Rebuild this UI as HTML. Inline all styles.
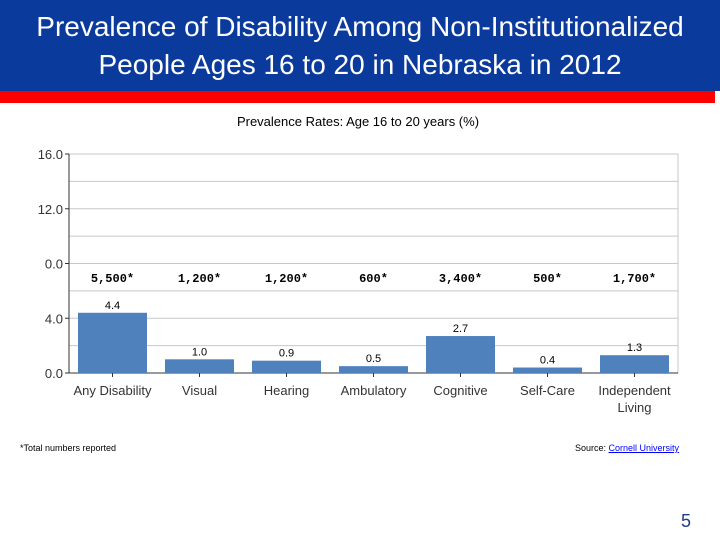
<!DOCTYPE html>
<html><head><meta charset="utf-8"><style>
body{margin:0;width:720px;height:540px;background:#fff;position:relative;overflow:hidden;font-family:"Liberation Sans",sans-serif}
#banner{position:absolute;left:0;top:0;width:720px;height:91px;background:#0a3a9c;color:#fff;text-align:center;font-size:28px;line-height:38px;padding-top:8px;box-sizing:border-box}
#red{position:absolute;left:0;top:91px;width:715px;height:12px;background:#f00}
.note{position:absolute;font-size:9px;color:#000}
</style></head><body>
<div id="banner">Prevalence of Disability Among Non-Institutionalized<br>People Ages 16 to 20 in Nebraska in 2012</div>
<div id="red"></div>
<svg id="chart" width="720" height="540" style="position:absolute;left:0;top:0"></svg>
<div class="note" style="left:20px;top:443px">*Total numbers reported</div>
<div class="note" style="left:575px;top:443px">Source: <span style="color:#00f;text-decoration:underline">Cornell University</span></div>
<div style="position:absolute;left:681px;top:511px;font-size:18px;color:#1f3c88">5</div>
<script>
const categories=["Any Disability","Visual","Hearing","Ambulatory","Cognitive","Self-Care","Independent Living"];
const values=[4.4,1.0,0.9,0.5,2.7,0.4,1.3];
const counts=["5,500*","1,200*","1,200*","600*","3,400*","500*","1,700*"];
const tickValues=[0,4,8,12,16];
const tickLabels=["0.0","4.0","0.0","12.0","16.0"];
const gridValues=[2,4,6,8,10,12,14];
const NS="http://www.w3.org/2000/svg",svg=document.getElementById('chart');
const L=69,R=678,T=154,B=373,maxV=16;
const y=v=>B-(v/maxV)*(B-T);
const band=(R-L)/categories.length;
const xc=i=>L+band*(i+0.5);
function mk(t,a,txt){const e=document.createElementNS(NS,t);for(const k in a)e.setAttribute(k,a[k]);if(txt!=null)e.textContent=txt;svg.appendChild(e);return e;}
let e=mk('text',{x:358,y:126,'text-anchor':'middle','font-size':13,fill:'#000'},'Prevalence Rates: Age 16 to 20 years (%)');


gridValues.forEach(v=>{const g=mk('line',{x1:L,x2:R,y1:y(v),y2:y(v),stroke:'#c8c8c8'});

});
let b=mk('rect',{x:L,y:T,width:R-L,height:B-T,fill:'none',stroke:'#c8c8c8'});


let ax=mk('line',{x1:L,x2:L,y1:T,y2:B,stroke:'#333'});


let xa=mk('line',{x1:L,x2:R,y1:B,y2:B,stroke:'#333'});


tickValues.forEach((v,i)=>{const t=mk('text',{x:L-6,y:y(v)+5,'text-anchor':'end','font-size':13,fill:'#333'},tickLabels[i]);


mk('line',{x1:L-4,x2:L,y1:y(v),y2:y(v),stroke:'#333'});});
const bw=69;
categories.forEach((c,i)=>{
 const r=mk('rect',{x:xc(i)-bw/2,y:y(values[i]),width:bw,height:B-y(values[i]),fill:'#4f81bd'});
 
 
 const v=mk('text',{x:xc(i),y:y(values[i])-4,'text-anchor':'middle','font-size':11,fill:'#000'},values[i].toFixed(1));
 
 
 const n=mk('text',{x:xc(i),y:282,'text-anchor':'middle','font-size':12,'font-weight':'bold','font-family':'Liberation Mono, monospace',fill:'#000'},counts[i]);
 
 
 mk('line',{x1:xc(i),x2:xc(i),y1:B,y2:B+4,stroke:'#333'});
 const words=c==="Independent Living"?["Independent","Living"]:[c];
 words.forEach((w,k)=>{const t=mk('text',{x:xc(i),y:395+k*17,'text-anchor':'middle','font-size':13,fill:'#333'},w);
 
 });
});
</script>
</body></html>
